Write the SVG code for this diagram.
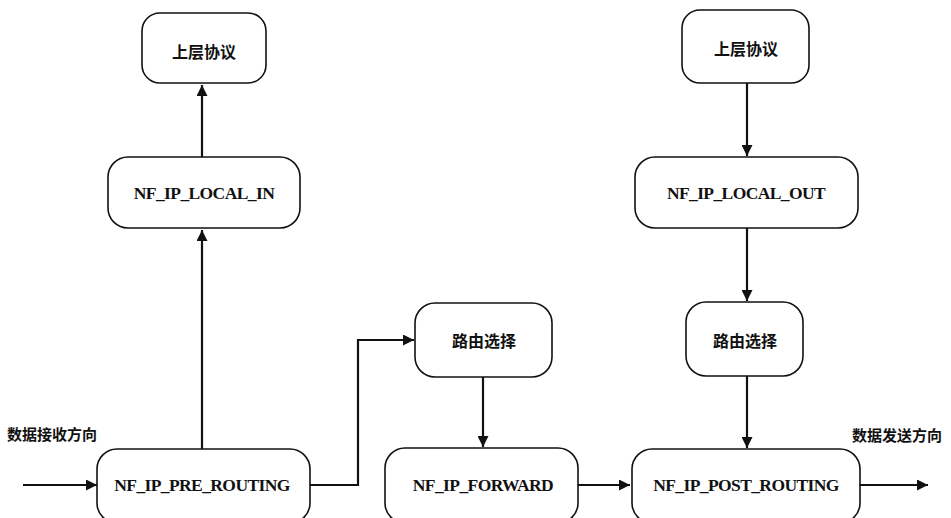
<svg xmlns="http://www.w3.org/2000/svg" width="951" height="518" viewBox="0 0 951 518">
  <style>
    .box { fill: #ffffff; stroke: #111111; stroke-width: 1.6; }
    .en { font-family: "Liberation Serif", "Times New Roman", serif; font-weight: bold; font-size: 17.5px; letter-spacing: -0.6px; fill: #111111; text-anchor: middle; dominant-baseline: central; }
    .zh { font-family: "Noto Sans CJK SC", "Noto Sans", sans-serif; font-weight: bold; font-size: 16px; fill: #111111; text-anchor: middle; dominant-baseline: central; }
    .lbl { font-family: "Noto Sans CJK SC", "Noto Sans", sans-serif; font-weight: bold; font-size: 15px; fill: #111111; }
    .wire { fill: none; stroke: #111111; stroke-width: 2.2; marker-end: url(#arrow); }
  </style>
  <defs>
    <marker id="arrow" viewBox="0 0 10 10" refX="10" refY="5" markerWidth="5.5" markerHeight="5" markerUnits="strokeWidth" orient="auto">
      <path d="M0,0 L10,5 L0,10 Z" fill="#111111"/>
    </marker>
  </defs>
  <rect width="951" height="518" fill="#ffffff"/>

  <!-- connectors -->
  <g id="connectors">
    <path class="wire" d="M23,485 L97,485"/>
    <path class="wire" d="M202,449 L202,230"/>
    <path class="wire" d="M202,157 L202,85"/>
    <path class="wire" d="M310,485 L358,485 L358,340 L414,340"/>
    <path class="wire" d="M483,377 L483,447"/>
    <path class="wire" d="M578,485 L630,485"/>
    <path class="wire" d="M747,83 L747,156"/>
    <path class="wire" d="M747,228 L747,301"/>
    <path class="wire" d="M747,376 L747,448"/>
    <path class="wire" d="M860,485 L928,485"/>
  </g>

  <!-- direction labels -->
  <text class="lbl" x="7" y="440">数据接收方向</text>
  <text class="lbl" x="852" y="441">数据发送方向</text>

  <!-- nodes -->
  <g id="upper-in">
    <rect class="box" x="142" y="13" width="124" height="70" rx="18"/>
    <text class="zh" x="204" y="51">上层协议</text>
  </g>
  <g id="local-in">
    <rect class="box" x="108" y="157" width="192" height="71" rx="20"/>
    <text class="en" x="204" y="193">NF_IP_LOCAL_IN</text>
  </g>
  <g id="pre-routing">
    <rect class="box" x="97" y="449" width="213" height="74" rx="20"/>
    <text class="en" x="202" y="485">NF_IP_PRE_ROUTING</text>
  </g>
  <g id="route-fwd">
    <rect class="box" x="415" y="303" width="137" height="74" rx="20"/>
    <text class="zh" x="484" y="340">路由选择</text>
  </g>
  <g id="forward">
    <rect class="box" x="385" y="448" width="193" height="75" rx="20"/>
    <text class="en" x="483" y="485">NF_IP_FORWARD</text>
  </g>
  <g id="upper-out">
    <rect class="box" x="682" y="10" width="127" height="73" rx="18"/>
    <text class="zh" x="746" y="48">上层协议</text>
  </g>
  <g id="local-out">
    <rect class="box" x="635" y="157" width="223" height="71" rx="20"/>
    <text class="en" x="746" y="193">NF_IP_LOCAL_OUT</text>
  </g>
  <g id="route-out">
    <rect class="box" x="686" y="302" width="117" height="74" rx="20"/>
    <text class="zh" x="745" y="340">路由选择</text>
  </g>
  <g id="post-routing">
    <rect class="box" x="632" y="449" width="228" height="74" rx="20"/>
    <text class="en" x="746" y="485">NF_IP_POST_ROUTING</text>
  </g>
</svg>
